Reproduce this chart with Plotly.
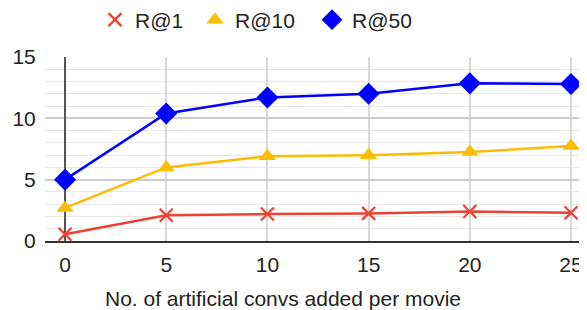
import plotly.graph_objects as go

x_vals = [0, 5, 10, 15, 20, 25]
r1 = [0.55, 2.1, 2.2, 2.25, 2.4, 2.3]
r10 = [2.7, 6.0, 6.9, 7.0, 7.25, 7.75]
r50 = [5.0, 10.4, 11.7, 12.0, 12.85, 12.8]
x_ticks = [0, 5, 10, 15, 20, 25]
y_ticks = [0, 5, 10, 15]
x_title = "No. of artificial convs added per movie"

series = [
    ("R@1", r1, "#ea4335", dict(symbol="x-thin", size=13, line=dict(color="#ea4335", width=2.2))),
    ("R@10", r10, "#fbbc04", dict(symbol="triangle-up", size=15)),
    ("R@50", r50, "#0000ff", dict(symbol="diamond", size=17)),
]
legend_ids = ["legend", "legend2", "legend3"]
legend_left = [87, 187, 304]

W, H = 579, 302
fig = go.Figure()
for name, vals, col, mk in series:
    fig.add_trace(go.Scatter(x=x_vals, y=vals, name=name, mode="lines+markers",
                             line=dict(color=col, width=2.5), showlegend=False,
                             marker=dict(color=col, **mk)))
for (name, vals, col, mk), lid in zip(series, legend_ids):
    fig.add_trace(go.Scatter(x=[None], y=[None], name=name, mode="markers",
                             marker=dict(color=col, **mk), showlegend=True, legend=lid))

legend_common = dict(orientation="h", xanchor="left", xref="container",
                     y=1 - 12 / H, yanchor="middle", yref="container",
                     font=dict(size=21, color="#222"), itemwidth=30,
                     bgcolor="rgba(0,0,0,0)")
fig.update_layout(
    width=W, height=H,
    margin=dict(l=37, r=0, t=49, b=69, autoexpand=False),
    paper_bgcolor="white", plot_bgcolor="white",
    font=dict(family="Liberation Sans, Arial, sans-serif", size=21, color="#222"),
    legend=dict(x=legend_left[0] / W, **legend_common),
    legend2=dict(x=legend_left[1] / W, **legend_common),
    legend3=dict(x=legend_left[2] / W, **legend_common),
    annotations=[dict(text=x_title, xref="paper", yref="paper",
                      x=(275 - 37) / 542, y=-57 / 184, xanchor="center", yanchor="middle",
                      showarrow=False, font=dict(size=21, color="#222"))],
)
fig.update_xaxes(range=[-0.99, 25.79], tickvals=x_ticks, showgrid=True, automargin=False,
                 gridcolor="#d9d9d9", gridwidth=1.5,
                 zeroline=True, zerolinecolor="#555", zerolinewidth=1.5,
                 showline=True, linecolor="#333", linewidth=1.5,
                 ticks="outside", ticklen=4, tickcolor="white",
                 tickfont=dict(size=21, color="#222"))
fig.update_yaxes(range=[0, 15], tickvals=y_ticks, showgrid=True, automargin=False,
                 gridcolor="#cccccc", gridwidth=1.5,
                 minor=dict(dtick=1, showgrid=True, gridcolor="#e8e8e8", gridwidth=1.2),
                 zeroline=False, ticks="outside", ticklen=4, tickcolor="white",
                 tickfont=dict(size=21, color="#222"))

fig.write_html("out.html")
